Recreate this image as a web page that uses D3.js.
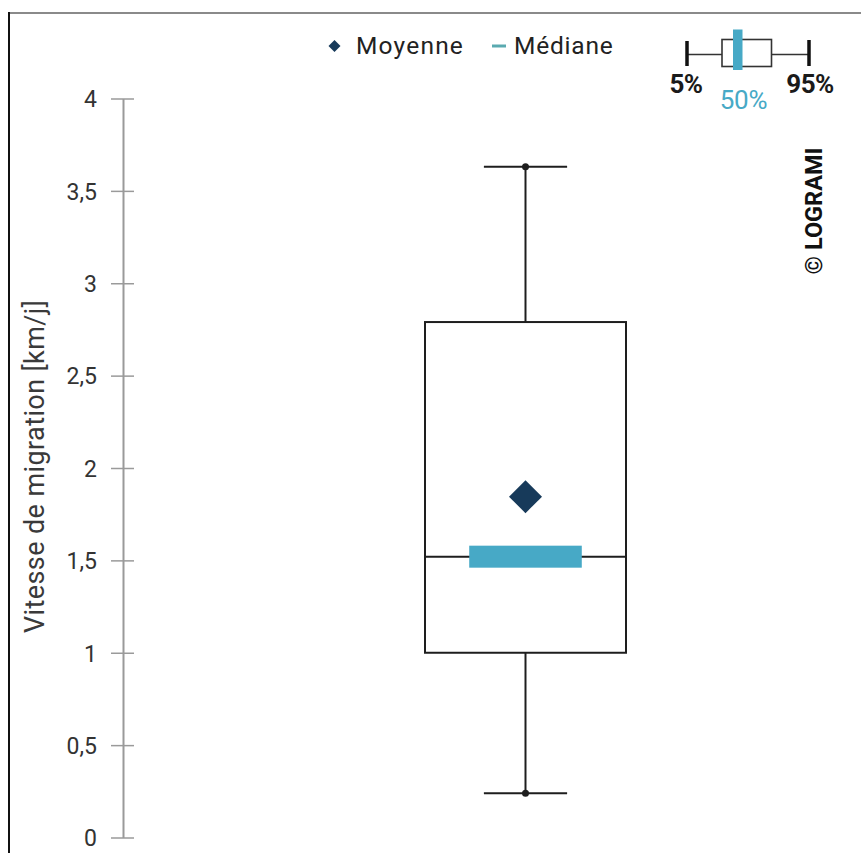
<!DOCTYPE html>
<html><head><meta charset="utf-8">
<script src="https://cdn.jsdelivr.net/npm/d3@7"></script>
<style>
html,body{margin:0;padding:0;background:#fff;}
svg{display:block;font-family:Roboto,"DejaVu Sans",sans-serif;}
</style></head>
<body>
<script>
// ---- data ----
const categories = ["Vitesse de migration"];
const p5Values = [0.24];
const q1Values = [1.0];
const medianValues = [1.52];
const q3Values = [2.79];
const p95Values = [3.63];
const meanValues = [1.845];
const tickValues = [0, 0.5, 1, 1.5, 2, 2.5, 3, 3.5, 4];
const tickLabels = ["0", "0,5", "1", "1,5", "2", "2,5", "3", "3,5", "4"];
const yTitle = "Vitesse de migration [km/j]";
const legendLabels = ["Moyenne", "Médiane"];
const keyLabels = ["5%", "50%", "95%"];
const credit = "© LOGRAMI";

const W = 861, H = 853;
const teal = "#47a9c6", navy = "#173a5a", ink = "#1e1e1e";

const svg = d3.select("body").append("svg").attr("width", W).attr("height", H);

// frame
svg.append("line").attr("x1", 9).attr("x2", W).attr("y1", 13).attr("y2", 13)
  .attr("stroke", "#8a8a8a").attr("stroke-width", 2);
svg.append("line").attr("x1", 9).attr("x2", 9).attr("y1", 12).attr("y2", H)
  .attr("stroke", "#111").attr("stroke-width", 2);

const y = d3.scaleLinear().domain([0, 4]).range([837.5, 98.5]);
const x = d3.scaleBand().domain(categories).range([425, 626]);

// axis
const axisX = 123;
const axis = d3.axisLeft(y).tickValues(tickValues)
  .tickFormat((d, i) => tickLabels[i]).tickSize(0).tickPadding(0);
const ag = svg.append("g").attr("transform", `translate(${axisX},0)`).call(axis);
ag.select(".domain").attr("stroke", "#9a9a9a").attr("stroke-width", 2);
ag.selectAll(".tick text").attr("x", -26).attr("dy", "0.36em")
  .attr("font-size", 23).attr("fill", "#333").attr("font-family", "Roboto, sans-serif");
ag.selectAll(".tick").append("line").attr("x1", -12).attr("x2", 11)
  .attr("stroke", "#9a9a9a").attr("stroke-width", 1.5);

// y title
svg.append("text").attr("transform", `translate(44,633) rotate(-90)`)
  .attr("text-anchor", "start").attr("font-size", 27).attr("fill", "#3a3a3a")
  .attr("letter-spacing", 0.4)
  .text(yTitle);

// box plot
const g = svg.append("g");
categories.forEach((c, i) => {
  const x0 = x(c), bw = x.bandwidth(), cx = x0 + bw / 2;
  const capHalf = bw * 0.207, medHalf = bw * 0.28;
  // whiskers
  g.append("line").attr("x1", cx).attr("x2", cx).attr("y1", y(q3Values[i])).attr("y2", y(p95Values[i]))
    .attr("stroke", ink).attr("stroke-width", 2);
  g.append("line").attr("x1", cx).attr("x2", cx).attr("y1", y(q1Values[i])).attr("y2", y(p5Values[i]))
    .attr("stroke", ink).attr("stroke-width", 2);
  [p95Values[i], p5Values[i]].forEach(v => {
    g.append("line").attr("x1", cx - capHalf).attr("x2", cx + capHalf).attr("y1", y(v)).attr("y2", y(v))
      .attr("stroke", ink).attr("stroke-width", 2);
    g.append("circle").attr("cx", cx).attr("cy", y(v)).attr("r", 3.5).attr("fill", ink);
  });
  // box
  g.append("rect").attr("x", x0).attr("y", y(q3Values[i])).attr("width", bw)
    .attr("height", y(q1Values[i]) - y(q3Values[i]))
    .attr("fill", "none").attr("stroke", ink).attr("stroke-width", 2);
  // median line
  g.append("line").attr("x1", x0).attr("x2", x0 + bw).attr("y1", y(medianValues[i])).attr("y2", y(medianValues[i]))
    .attr("stroke", ink).attr("stroke-width", 2);
  // median teal bar
  g.append("rect").attr("x", cx - medHalf).attr("y", y(medianValues[i]) - 11)
    .attr("width", medHalf * 2).attr("height", 22).attr("fill", teal);
  // mean diamond
  const d = 16.5, my = y(meanValues[i]);
  g.append("path").attr("d", `M${cx},${my - d}L${cx + d},${my}L${cx},${my + d}L${cx - d},${my}Z`)
    .attr("fill", navy);
});

// legend
const lg = svg.append("g");
lg.append("path").attr("d", "M334.5,40L340.5,46L334.5,52L328.5,46Z").attr("fill", navy);
lg.append("text").attr("x", 356).attr("y", 53.5).attr("font-size", 24.5).attr("fill", "#222")
  .attr("letter-spacing", 1.2).text(legendLabels[0]);
lg.append("line").attr("x1", 492).attr("x2", 506).attr("y1", 46).attr("y2", 46)
  .attr("stroke", "#5aaab0").attr("stroke-width", 3);
lg.append("text").attr("x", 514).attr("y", 53.5).attr("font-size", 24.5).attr("fill", "#222")
  .attr("letter-spacing", 0.8).text(legendLabels[1]);

// box key
const k = svg.append("g");
k.append("line").attr("x1", 687).attr("x2", 722).attr("y1", 54.5).attr("y2", 54.5).attr("stroke", "#333").attr("stroke-width", 1.6);
k.append("line").attr("x1", 771.5).attr("x2", 809).attr("y1", 54.5).attr("y2", 54.5).attr("stroke", "#333").attr("stroke-width", 1.6);
k.append("line").attr("x1", 687).attr("x2", 687).attr("y1", 41).attr("y2", 66).attr("stroke", "#111").attr("stroke-width", 3.5);
k.append("line").attr("x1", 809).attr("x2", 809).attr("y1", 40).attr("y2", 66).attr("stroke", "#111").attr("stroke-width", 3.5);
k.append("rect").attr("x", 722).attr("y", 39.5).attr("width", 49.5).attr("height", 27)
  .attr("fill", "#fff").attr("stroke", "#333").attr("stroke-width", 1.6);
k.append("rect").attr("x", 733).attr("y", 29.5).attr("width", 9.5).attr("height", 40.5).attr("fill", teal);
k.append("text").attr("x", 686).attr("y", 93).attr("text-anchor", "middle").attr("font-size", 26)
  .attr("font-weight", "bold").attr("fill", "#1a1a1a").attr("letter-spacing", -0.5).text(keyLabels[0]);
k.append("text").attr("x", 743.5).attr("y", 109).attr("text-anchor", "middle").attr("font-size", 26)
  .attr("fill", teal).attr("letter-spacing", -0.3).text(keyLabels[1]);
k.append("text").attr("x", 810).attr("y", 93).attr("text-anchor", "middle").attr("font-size", 26)
  .attr("font-weight", "bold").attr("fill", "#1a1a1a").attr("letter-spacing", -0.5).text(keyLabels[2]);

// credit
svg.append("text").attr("transform", "translate(822,211) rotate(-90)").attr("text-anchor", "middle")
  .attr("font-size", 23.5).attr("font-weight", "bold").attr("fill", "#111").text(credit);
</script>
</body></html>
